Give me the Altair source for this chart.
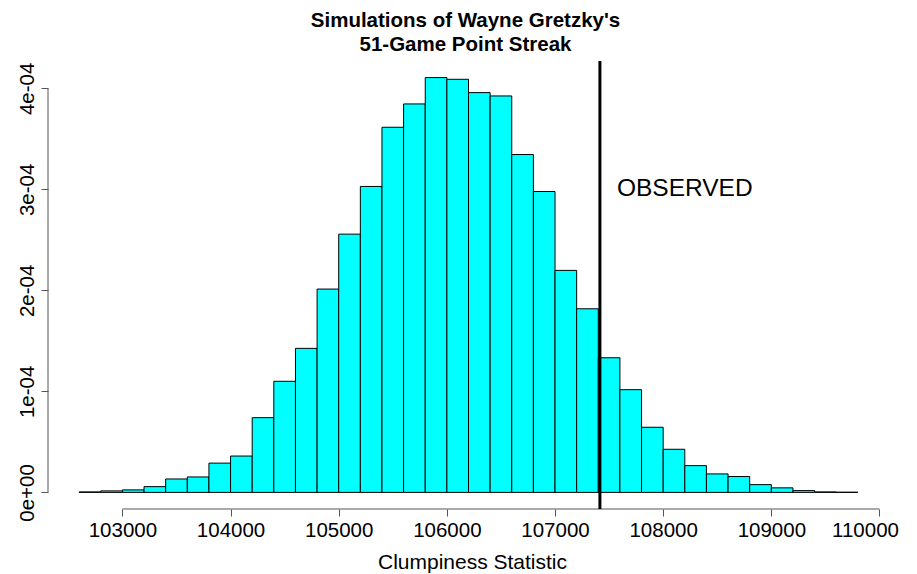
import altair as alt
import pandas as pd

# Histogram bins (left edges, width 200) and density values
bin_start = [102600, 102800, 103000, 103200, 103400, 103600, 103800, 104000,
             104200, 104400, 104600, 104800, 105000, 105200, 105400, 105600,
             105800, 106000, 106200, 106400, 106600, 106800, 107000, 107200,
             107400, 107600, 107800, 108000, 108200, 108400, 108600, 108800,
             109000, 109200, 109400, 109600]
bin_width = 200
density_e4 = [0.005, 0.015, 0.025, 0.057, 0.133, 0.153, 0.29, 0.36,
              0.74, 1.10, 1.426, 2.013, 2.557, 3.029, 3.615, 3.846,
              4.107, 4.090, 3.958, 3.925, 3.345, 2.979, 2.198, 1.818,
              1.333, 1.017, 0.645, 0.427, 0.265, 0.183, 0.157, 0.077,
              0.045, 0.018, 0.005, 0.002]

observed_value = 107415
observed_label = "OBSERVED"
label_x = 108200
label_y = 3e-4

x_ticks = [103000, 104000, 105000, 106000, 107000, 108000, 109000, 110000]
y_ticks = [0, 1e-4, 2e-4, 3e-4, 4e-4]

title_lines = ["Simulations of Wayne Gretzky's", "51-Game Point Streak"]
x_title = "Clumpiness Statistic"

FONT = "Liberation Sans"
W, H = 841, 448

df = pd.DataFrame({
    "start": bin_start,
    "end": [b + bin_width for b in bin_start],
    "density": [d * 1e-4 for d in density_e4],
})

xscale = alt.Scale(domain=[102312, 110088], nice=False, zero=False)
yscale = alt.Scale(domain=[-1.643e-5, 4.271e-4], nice=False, zero=False)

bars = alt.Chart(df).mark_rect(
    fill="#00FFFF", stroke="black", strokeWidth=1
).encode(
    x=alt.X("start:Q", scale=xscale, title=x_title,
            axis=alt.Axis(values=x_ticks, format="d", domain=False, grid=False,
                          tickSize=7, tickColor="#555", labelPadding=4,
                          labelFont=FONT, labelFontSize=20.5, labelColor="black",
                          labelFlush=20, labelFlushOffset=19, labelOverlap=False,
                          titleFont=FONT, titleFontSize=21, titleFontWeight="normal",
                          titleColor="black", titleBaseline="alphabetic",
                          titleY=59, titleX=424)),
    x2="end:Q",
    y=alt.Y("density:Q", scale=yscale, title=None,
            axis=alt.Axis(values=y_ticks, domain=False, grid=False,
                          tickSize=7, tickColor="#555",
                          labelAngle=270, labelAlign="center",
                          labelBaseline="alphabetic", labelPadding=7.5,
                          labelFont=FONT, labelFontSize=20.5, labelColor="black",
                          labelFlush=False, labelOverlap=False,
                          labelExpr="datum.value == 0 ? '0e+00' : format(round(datum.value * 1e4), 'd') + 'e-04'")),
    y2=alt.datum(0),
)

xaxis_line = alt.Chart(pd.DataFrame({"a": [x_ticks[0]], "b": [x_ticks[-1]]})).mark_rule(
    color="#555", strokeWidth=1
).encode(x=alt.X("a:Q", scale=xscale), x2="b:Q", y=alt.value(H))

yaxis_line = alt.Chart(pd.DataFrame({"a": [y_ticks[0]], "b": [y_ticks[-1]]})).mark_rule(
    color="#555", strokeWidth=1
).encode(y=alt.Y("a:Q", scale=yscale), y2="b:Q", x=alt.value(0))

obs_line = alt.Chart(pd.DataFrame({"v": [observed_value]})).mark_rule(
    color="black", strokeWidth=3
).encode(x=alt.X("v:Q", scale=xscale))

obs_text = alt.Chart(pd.DataFrame({"x": [label_x], "y": [label_y], "t": [observed_label]})).mark_text(
    font=FONT, fontSize=24.5, color="black", align="center", baseline="middle"
).encode(x=alt.X("x:Q", scale=xscale), y=alt.Y("y:Q", scale=yscale), text="t:N")

chart = alt.layer(bars, xaxis_line, yaxis_line, obs_line, obs_text).properties(
    width=W, height=H,
    background="white",
    title=alt.TitleParams(text=title_lines, font=FONT, fontSize=20.5, fontWeight="bold",
                          anchor="middle", offset=4, lineHeight=24, color="black", dx=-3),
    autosize=alt.AutoSizeParams(type="none"),
    padding={"left": 40, "top": 53, "right": 20, "bottom": 65},
).configure_view(stroke=None)

chart.save("out.html", embed_options={"renderer": "svg", "actions": False})
